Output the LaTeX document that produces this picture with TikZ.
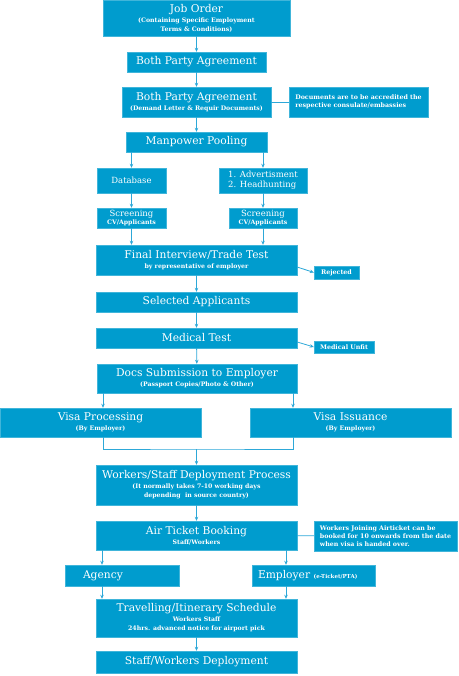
\documentclass[tikz,border=0pt]{standalone}
\usepackage{fontspec}
\setmainfont{DejaVu Serif}
\usetikzlibrary{arrows.meta}

\definecolor{boxblue}{RGB}{0,156,206}
\definecolor{lineblue}{RGB}{45,168,216}
\newcommand{\subtxt}{\bfseries\fontsize{6.2}{8}\selectfont}

\begin{document}
\begin{tikzpicture}[x=1pt,y=-1pt,
    box/.style={fill=boxblue, draw=boxblue!75!white, line width=0.4pt, text=white,
      inner sep=0pt, align=center, font=\fontsize{10.7}{12}\selectfont},
    note/.style={box, align=left, font=\bfseries\fontsize{6.3}{7.8}\selectfont},
    arr/.style={draw=lineblue, line width=0.8pt, -{Stealth[length=4pt,width=3.5pt]}},
    link/.style={draw=lineblue, line width=0.8pt}]
    \useasboundingbox (0,0) rectangle (458,676);

    % Agreement stage
    \node[box, minimum width=187pt, minimum height=36pt] (job) at (196.5,18)
        {Job Order\\[-2pt]{\subtxt (Containing Specific Employment}\\[-3pt]{\subtxt Terms \& Conditions)}};
    \node[box, minimum width=139pt, minimum height=20pt] (bpa) at (196.5,62) {Both Party Agreement};
    \node[box, minimum width=149pt, minimum height=30pt] (demand) at (196.5,102)
        {Both Party Agreement\\[-2pt]{\subtxt (Demand Letter \& Requir Documents)}};
    \node[note, minimum width=139pt, minimum height=30pt] (accredit) at (358.5,102)
        {Documents are to be accredited the\\respective consulate/embassies};

    % Pooling and screening
    \node[box, minimum width=141pt, minimum height=20pt] (pool) at (196.5,142) {Manpower Pooling};
    \node[box, minimum width=69pt, minimum height=25pt, font=\fontsize{8.5}{10}\selectfont] (db) at (131.5,180.5) {Database};
    \node[box, minimum width=88pt, minimum height=25pt, align=left, font=\fontsize{8.5}{10}\selectfont] (advert) at (263,180.5)
        {1. Advertisment\\2. Headhunting};
    \node[box, minimum width=69pt, minimum height=20pt, font=\fontsize{8.5}{8}\selectfont] (screenL) at (131.5,218)
        {Screening\\{\subtxt CV/Applicants}};
    \node[box, minimum width=68pt, minimum height=20pt, font=\fontsize{8.5}{8}\selectfont] (screenR) at (263,218)
        {Screening\\{\subtxt CV/Applicants}};

    % Interview and medical
    \node[box, minimum width=201pt, minimum height=30pt] (interview) at (196.5,260)
        {Final Interview/Trade Test\\[-2pt]{\subtxt by representative of employer}};
    \node[note, align=center, minimum width=45pt, minimum height=13pt] (reject) at (336.5,272.5) {Rejected};
    \node[box, minimum width=201pt, minimum height=20pt] (selected) at (196.5,302) {Selected Applicants};
    \node[box, minimum width=201pt, minimum height=20pt] (medical) at (196.5,338) {Medical Test};
    \node[note, align=center, minimum width=60pt, minimum height=12pt] (unfit) at (344,347) {Medical Unfit};

    % Documents and visa
    \node[box, minimum width=200pt, minimum height=29pt] (docs) at (197,378.5)
        {Docs Submission to Employer\\[-2pt]{\subtxt (Passport Copies/Photo \& Other)}};
    \node[box, minimum width=201pt, minimum height=29pt] (visaP) at (100.5,422.5)
        {Visa Processing\\[-2pt]{\subtxt (By Employer)}};
    \node[box, minimum width=201pt, minimum height=29pt] (visaI) at (350.5,422.5)
        {Visa Issuance\\[-2pt]{\subtxt (By Employer)}};

    % Deployment
    \node[box, minimum width=201pt, minimum height=40pt] (process) at (196.5,485)
        {Workers/Staff Deployment Process\\[-2pt]{\subtxt (It normally takes 7-10 working days}\\[-3pt]{\subtxt depending\ \ in source country)}};
    \node[box, minimum width=201pt, minimum height=29pt] (ticket) at (196.5,535.5)
        {Air Ticket Booking\\[-2pt]{\subtxt Staff/Workers}};
    \node[note, minimum width=143pt, minimum height=30pt] (joining) at (385.5,536)
        {Workers Joining Airticket can be\\booked for 10 onwards from the date\\when visa is handed over.};
    \node[box, align=left, inner xsep=18pt, text width=78pt, minimum height=21pt] (agency) at (122,575.5) {Agency};
    \node[box, align=left, inner xsep=6pt, text width=111pt, minimum height=21pt] (employer) at (313.5,575.5)
        {Employer {\bfseries\fontsize{5.5}{6}\selectfont(e-Ticket/PTA)}};
    \node[box, minimum width=201pt, minimum height=38pt] (travel) at (196.5,618)
        {Travelling/Itinerary Schedule\\[-2pt]{\subtxt Workers Staff}\\[-3pt]{\subtxt 24hrs. advanced notice for airport pick}};
    \node[box, minimum width=201pt, minimum height=22pt] (final) at (196.5,662) {Staff/Workers Deployment};

    % Connectors
    \coordinate (colL) at (103,0);
    \coordinate (colR) at (293,0);
    \coordinate (merge) at (196.5,449);
    \coordinate (tL) at (102,0);
    \coordinate (tR) at (286,0);

    \draw[arr] (job) -- (bpa);
    \draw[arr] (bpa) -- (demand);
    \draw[link] (demand) -- (accredit);
    \draw[arr] (demand) -- (pool);
    \draw[arr] (pool.south -| db) -- (db);
    \draw[arr] (pool.south -| advert) -- (advert);
    \draw[arr] (db) -- (screenL);
    \draw[arr] (advert) -- (screenR);
    \draw[arr] (screenL) -- (screenL |- interview.north);
    \draw[arr] (screenR) -- (screenR |- interview.north);
    \draw[arr] ([yshift=-7pt]interview.east) -- (reject.west);
    \draw[arr] (interview) -- (selected);
    \draw[arr] (selected) -- (medical);
    \draw[arr] ([yshift=-4pt]medical.east) -- (unfit.west);
    \draw[arr] (medical) -- (docs);
    \draw[arr] (docs.south -| colL) -- (visaP.north -| colL);
    \draw[arr] (docs.south -| colR) -- (visaI.north -| colR);
    \draw[link] (visaP.south -| colL) |- (merge) -| (visaI.south -| colR);
    \draw[arr] (merge) -- (process);
    \draw[arr] (process) -- (ticket);
    \draw[link] (ticket) -- (joining);
    \draw[arr] (ticket.south -| tL) -- (agency.north -| tL);
    \draw[arr] (ticket.south -| tR) -- (employer.north -| tR);
    \draw[arr] (agency.south -| tL) -- (travel.north -| tL);
    \draw[arr] (employer.south -| tR) -- (travel.north -| tR);
    \draw[arr] (travel) -- (final);
\end{tikzpicture}
\end{document}
